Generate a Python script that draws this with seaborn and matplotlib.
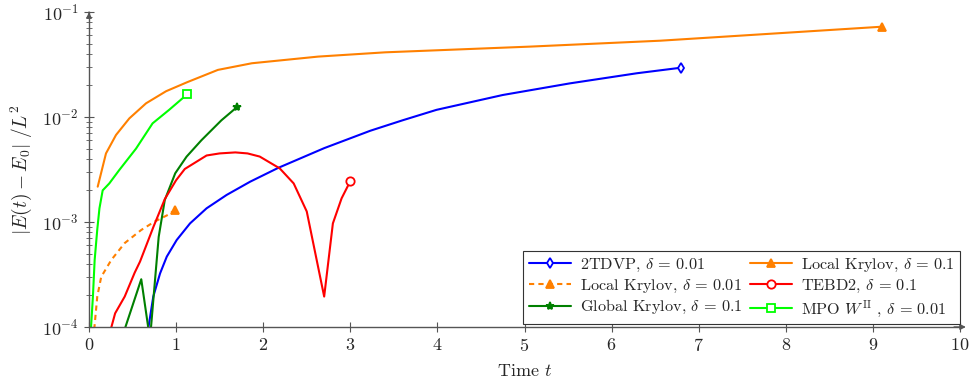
import matplotlib
matplotlib.use("Agg")
import matplotlib.pyplot as plt
import seaborn as sns
from matplotlib.ticker import LogLocator, NullFormatter, MultipleLocator

# 2TDVP, delta = 0.01
t_tdvp = [0.67, 0.738, 0.816, 0.893, 1.007, 1.16, 1.35, 1.58, 1.85, 2.17, 2.70, 3.23, 3.60, 3.99, 4.75,
          5.52, 6.29, 6.80]
e_tdvp = [8.5e-5, 1.95e-4, 3.24e-4, 4.68e-4, 6.74e-4, 9.7e-4, 1.35e-3, 1.81e-3, 2.42e-3, 3.27e-3, 5.05e-3,
          7.4e-3, 9.3e-3, 0.0117, 0.0162, 0.0209, 0.0261, 0.0295]

# Local Krylov, delta = 0.1
t_lk1 = [0.10, 0.195, 0.31, 0.463, 0.655, 0.885, 1.13, 1.48, 1.87, 2.63, 3.40, 5.06, 6.56, 9.10]
e_lk1 = [2.17e-3, 4.5e-3, 6.74e-3, 9.7e-3, 0.0135, 0.0176, 0.0215, 0.0281, 0.0325, 0.0376, 0.0413,
         0.0468, 0.0533, 0.0724]

# Local Krylov, delta = 0.01
t_lk01 = [0.06, 0.095, 0.14, 0.256, 0.41, 0.60, 0.754, 0.907, 0.985]
e_lk01 = [9.5e-5, 1.95e-4, 3.0e-4, 4.35e-4, 6.3e-4, 8.4e-4, 1.01e-3, 1.17e-3, 1.30e-3]

# TEBD2, delta = 0.1
t_tebd = [0.25, 0.30, 0.41, 0.525, 0.586, 0.74, 0.87, 1.00, 1.10, 1.35, 1.50, 1.68, 1.82, 1.96, 2.19,
          2.35, 2.50, 2.70, 2.80, 2.90, 3.00]
e_tebd = [9.5e-5, 1.35e-4, 1.95e-4, 3.3e-4, 4.2e-4, 9.0e-4, 1.65e-3, 2.5e-3, 3.2e-3, 4.3e-3, 4.5e-3,
          4.6e-3, 4.5e-3, 4.2e-3, 3.24e-3, 2.33e-3, 1.26e-3, 1.95e-4, 9.7e-4, 1.68e-3, 2.45e-3]

# Global Krylov, delta = 0.1
t_glob = [0.40, 0.60, 0.70, 0.80, 0.87, 0.99, 1.12, 1.29, 1.52, 1.70]
e_glob = [9e-5, 2.85e-4, 7.6e-5, 7.2e-4, 1.62e-3, 2.91e-3, 4.19e-3, 6.0e-3, 9.3e-3, 0.01245]

# MPO W^II, delta = 0.01
t_mpo = [0.02, 0.045, 0.065, 0.095, 0.12, 0.157, 0.233, 0.348, 0.54, 0.73, 0.92, 1.095, 1.13]
e_mpo = [9e-5, 1.95e-4, 4.35e-4, 8.5e-4, 1.35e-3, 2.0e-3, 2.33e-3, 3.13e-3, 5.0e-3, 8.7e-3, 0.0117,
         0.0156, 0.0166]

sns.set_style("ticks")
plt.rcParams["font.family"] = "serif"
plt.rcParams["font.serif"] = ["cmr10", "DejaVu Serif"]
plt.rcParams["mathtext.fontset"] = "cm"
plt.rcParams["axes.formatter.use_mathtext"] = True
plt.rcParams["axes.unicode_minus"] = False

fig = plt.figure(figsize=(9.77, 3.83), dpi=100)
ax = fig.add_axes([89 / 977, 1 - 327 / 383, 871 / 977, 315 / 383])

series = [
    (t_tdvp, e_tdvp, "#0000ff", "d", "-", "w", r"2TDVP, $\delta \,=\, 0.01$"),
    (t_lk01, e_lk01, "#ff8000", "^", (0, (2.5, 2)), "#ff8000", r"Local Krylov, $\delta \,=\, 0.01$"),
    (t_glob, e_glob, "#008000", "*", "-", "#008000", r"Global Krylov, $\delta \,=\, 0.1$"),
    (t_lk1, e_lk1, "#ff8000", "^", "-", "#ff8000", r"Local Krylov, $\delta \,=\, 0.1$"),
    (t_tebd, e_tebd, "#ff0000", "o", "-", "w", r"TEBD2, $\delta \,=\, 0.1$"),
    (t_mpo, e_mpo, "#00ff00", "s", "-", "w", r"MPO $W^{\mathrm{II}}$ , $\delta \,=\, 0.01$"),
]

for t, e, col, mk, ls, fc, lab in series:
    sns.lineplot(x=t, y=e, ax=ax, color=col, linestyle=ls, lw=1.5, marker=mk, markevery=[-1],
                 markersize=5.5 if mk == "d" else 6, markerfacecolor=fc, markeredgecolor=col,
                 markeredgewidth=1.3, estimator=None, sort=False, label=lab, legend=False)

ax.set_yscale("log")
ax.set_xlim(0, 10)
ax.set_ylim(1e-4, 1e-1)
ax.xaxis.set_major_locator(MultipleLocator(1))
ax.yaxis.set_major_locator(LogLocator(base=10, numticks=10))
ax.yaxis.set_minor_locator(LogLocator(base=10, subs=range(2, 10), numticks=10))
ax.yaxis.set_minor_formatter(NullFormatter())

axcol = "#555555"
for side in ["top", "right"]:
    ax.spines[side].set_visible(False)
for side in ["bottom", "left"]:
    ax.spines[side].set_color(axcol)
    ax.spines[side].set_linewidth(1.0)
ax.tick_params(axis="both", which="major", direction="inout", length=7, width=0.8, color=axcol,
               labelsize=13, pad=4)
ax.tick_params(axis="y", which="minor", direction="inout", length=4, width=0.6, color=axcol)
ax.annotate("", xy=(1.01, 0), xytext=(0.99, 0), xycoords="axes fraction",
            arrowprops=dict(arrowstyle="-|>", color=axcol, lw=1.0, mutation_scale=8))
ax.annotate("", xy=(0, 1.008), xytext=(0, 0.99), xycoords="axes fraction",
            arrowprops=dict(arrowstyle="-|>", color=axcol, lw=1.0, mutation_scale=8))

ax.set_xlabel(r"Time $t$", fontsize=13, labelpad=6)
ax.set_ylabel(r"$|E(t) - E_0|\ /L^2$", fontsize=14, labelpad=6)

handles, labels = ax.get_legend_handles_labels()
leg = ax.legend(handles, labels, ncol=2, loc="lower right", bbox_to_anchor=(1.0, 0.008),
                borderaxespad=0, fontsize=11.7, frameon=True, fancybox=False, framealpha=1,
                edgecolor="#333333", handlelength=2.6, columnspacing=0.5, labelspacing=0.22,
                handletextpad=0.5, borderpad=0.35)
leg.get_frame().set_linewidth(0.8)

fig.savefig("out.png", dpi=100)
